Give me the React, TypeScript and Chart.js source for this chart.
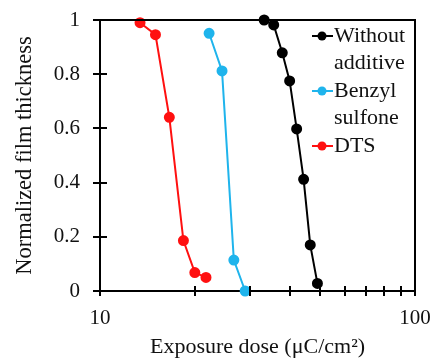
import React, { useEffect, useRef } from "react";
import { Chart, registerables } from "chart.js";

Chart.register(...registerables);

const seriesNames = ["Without additive", "Benzyl sulfone", "DTS"];
const legendLines = [["Without", "additive"], ["Benzyl", "sulfone"], ["DTS"]];
const seriesColors = ["#000000", "#1fb4ec", "#ff1010"];

const withoutDose = [33.2, 35.6, 37.9, 40.0, 42.1, 44.3, 46.5, 49.0];
const withoutThickness = [1.0, 0.982, 0.879, 0.775, 0.598, 0.412, 0.17, 0.028];
const benzylDose = [22.2, 24.4, 26.6, 28.9];
const benzylThickness = [0.951, 0.812, 0.114, 0.0];
const dtsDose = [13.4, 15.0, 16.6, 18.4, 20.0, 21.7];
const dtsThickness = [0.99, 0.946, 0.641, 0.186, 0.068, 0.05];

const xTickValues = [10, 20, 30, 40, 50, 60, 70, 80, 90, 100];
const xTickLabels = ["10", "", "", "", "", "", "", "", "", "100"];
const yTickValues = [0, 0.2, 0.4, 0.6, 0.8, 1];
const yTickLabels = ["0", "0.2", "0.4", "0.6", "0.8", "1"];

const FONT = "'Liberation Serif', 'Times New Roman', serif";

function pairs(xs: number[], ys: number[]) {
  return xs.map((x, i) => ({ x, y: ys[i] }));
}

const frameAndTicks = {
  id: "frameAndTicks",
  afterDraw(chart: any) {
    const { ctx, chartArea } = chart;
    const xs = chart.scales.x;
    const ys = chart.scales.y;
    ctx.save();
    ctx.strokeStyle = "#000";
    ctx.lineWidth = 2;
    ctx.beginPath();
    ctx.moveTo(chartArea.left, chartArea.top);
    ctx.lineTo(chartArea.right, chartArea.top);
    ctx.lineTo(chartArea.right, chartArea.bottom);
    ctx.stroke();
    ctx.beginPath();
    yTickValues.forEach((v) => {
      const py = Math.round(ys.getPixelForValue(v));
      ctx.moveTo(chartArea.left - 7, py);
      ctx.lineTo(chartArea.left + 7, py);
    });
    xTickValues.forEach((v) => {
      const px = Math.round(xs.getPixelForValue(v));
      ctx.moveTo(px, chartArea.bottom - 5);
      ctx.lineTo(px, chartArea.bottom + 5);
    });
    ctx.stroke();
    ctx.restore();
  },
};

const insideLegend = {
  id: "insideLegend",
  afterDraw(chart: any) {
    const { ctx } = chart;
    ctx.save();
    ctx.font = `22px ${FONT}`;
    ctx.textBaseline = "middle";
    ctx.textAlign = "left";
    const markerY = [36, 91, 146];
    const lineGap = 27;
    legendLines.forEach((lines, i) => {
      const y = markerY[i];
      ctx.strokeStyle = seriesColors[i];
      ctx.fillStyle = seriesColors[i];
      ctx.lineWidth = 2;
      ctx.beginPath();
      ctx.moveTo(312, y);
      ctx.lineTo(333, y);
      ctx.stroke();
      ctx.beginPath();
      ctx.arc(322, y, 4.5, 0, Math.PI * 2);
      ctx.fill();
      ctx.fillStyle = "#111";
      lines.forEach((t, j) => {
        ctx.fillText(t, 334, y + j * lineGap);
      });
    });
    ctx.restore();
  },
};

export default function App() {
  const ref = useRef<HTMLCanvasElement>(null);
  useEffect(() => {
    document.body.style.margin = "0";
    const dataSets = [
      pairs(withoutDose, withoutThickness),
      pairs(benzylDose, benzylThickness),
      pairs(dtsDose, dtsThickness),
    ];
    const chart = new Chart(ref.current!, {
      type: "line",
      data: {
        datasets: dataSets.map((d, i) => ({
          label: seriesNames[i],
          data: d,
          borderColor: seriesColors[i],
          backgroundColor: seriesColors[i],
          pointBackgroundColor: seriesColors[i],
          pointBorderColor: seriesColors[i],
          pointRadius: 4.5,
          borderWidth: 2,
          tension: 0,
          clip: false as any,
        })),
      },
      options: {
        animation: false,
        responsive: false,
        layout: { padding: { top: 20, right: 21, left: 0, bottom: 0 } },
        plugins: { legend: { display: false }, tooltip: { enabled: false } },
        scales: {
          x: {
            type: "logarithmic",
            min: 10,
            max: 100,
            afterFit: (s: any) => {
              s.height = 70;
              s.paddingLeft = 0;
              s.paddingRight = 0;
            },
            afterBuildTicks: (s: any) => {
              s.ticks = xTickValues.map((v) => ({ value: v }));
            },
            grid: { display: false, drawTicks: false },
            border: { display: true, color: "#000", width: 2 },
            ticks: {
              autoSkip: false,
              maxRotation: 0,
              padding: 15,
              color: "#111",
              font: { family: FONT, size: 21 },
              callback: (v: any) => xTickLabels[xTickValues.indexOf(Number(v))] ?? "",
            },
            title: {
              display: true,
              text: "Exposure dose (μC/cm²)",
              color: "#111",
              font: { family: FONT, size: 22 },
              padding: { top: 0, bottom: 1 },
            },
          },
          y: {
            min: 0,
            max: 1,
            afterFit: (s: any) => {
              s.width = 100;
              s.paddingTop = 0;
              s.paddingBottom = 0;
            },
            afterBuildTicks: (s: any) => {
              s.ticks = yTickValues.map((v) => ({ value: v }));
            },
            grid: { display: false, drawTicks: false },
            border: { display: true, color: "#000", width: 2 },
            ticks: {
              padding: 20,
              color: "#111",
              font: { family: FONT, size: 21 },
              callback: (v: any) => yTickLabels[yTickValues.indexOf(Number(v))] ?? "",
            },
            title: {
              display: true,
              text: "Normalized film thickness",
              color: "#111",
              font: { family: FONT, size: 22.5 },
              padding: { top: 12, bottom: 0 },
            },
          },
        },
      },
      plugins: [frameAndTicks, insideLegend],
    });
    return () => chart.destroy();
  }, []);
  return (
    <div style={{ width: 436, height: 361 }}>
      <canvas ref={ref} width={436} height={361} />
    </div>
  );
}
